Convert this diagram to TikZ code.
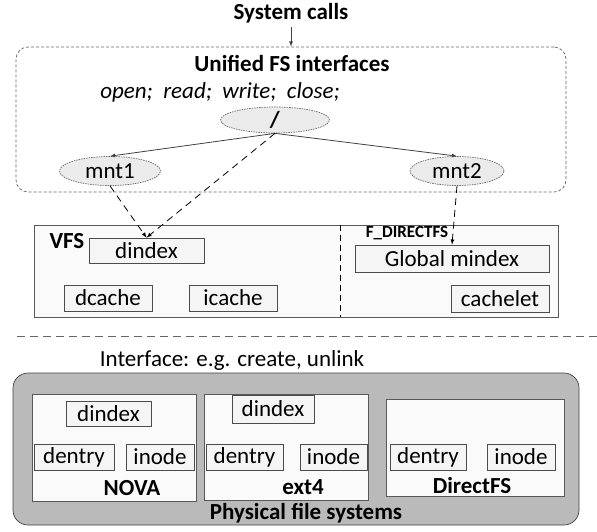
\documentclass[tikz,border=0pt]{standalone}
\usepackage{fontspec}
\setmainfont{Carlito}
\usepackage{tikz}
\usetikzlibrary{shapes.geometric,positioning}

\tikzset{
	box/.style={draw=black!70, fill=black!4, rectangle, inner sep=0pt, font=\fontsize{23}{26}\selectfont},
	mnt/.style={draw=black!60, dash pattern=on 1.5pt off 1pt, fill=black!8, ellipse, inner sep=0pt, font=\fontsize{23}{26}\selectfont},
	fsbox/.style={draw=black!65, fill=black!2, rectangle, inner sep=0pt},
	title/.style={font=\bfseries\fontsize{23}{26}\selectfont},
	txt/.style={font=\fontsize{23}{26}\selectfont},
	link/.style={-latex, draw=black!75, line width=0.8pt},
	dlink/.style={-latex, line width=0.8pt, dash pattern=on 7pt off 5pt},
}

\begin{document}
\begin{tikzpicture}[x=1pt, y=-1pt, line width=0.7pt]
				\useasboundingbox (0,0) rectangle (597,531);

				% upper layer: system call entry
				\node (sys) [title] at (291,13) {System calls};
				\node (unified) [draw=black!60, dash pattern=on 3pt off 2pt, rounded corners=12pt, minimum width=550pt, minimum height=145pt] at (291,119.5) {};
				\node (uftitle) [title] at (292,63) {Unified FS interfaces};
				\node (ops) [txt, font=\itshape\fontsize{23}{26}\selectfont] at (220,92) {open;~ read;~ write;~ close;};
				\node (root) [mnt, minimum width=109pt, minimum height=26pt] at (275,120) {\textbf{/}};
				\node (mnt1) [mnt, minimum width=101pt, minimum height=29pt] at (110,171) {mnt1};
				\node (mnt2) [mnt, minimum width=94pt, minimum height=29pt] at (457,171) {mnt2};

				% VFS and F_DIRECTFS
				\node (vfs) [fsbox, minimum width=524pt, minimum height=92pt] at (296,271) {};
				\draw[dash pattern=on 6pt off 4pt] (vfs.north -| 340,0) -- (vfs.south -| 340,0);
				\node (vfslabel) [title] at (67,241) {VFS};
				\node (vdindex) [box, minimum width=115pt, minimum height=25pt] at (146.5,250.5) {dindex};
				\node (dcache) [box, minimum width=88pt, minimum height=26pt] at (108,298) {dcache};
				\node (icache) [box, minimum width=88pt, minimum height=26pt] at (233,298) {icache};
				\node (fdlabel) [font=\bfseries\fontsize{17}{19}\selectfont] at (407,233) {F\_DIRECTFS};
				\node (gmindex) [box, minimum width=194pt, minimum height=27pt] at (452,258.5) {Global mindex};
				\node (cachelet) [box, minimum width=98pt, minimum height=27pt] at (500,298.5) {cachelet};

				% split between the two layers
				\coordinate (cutl) at (17,336);
				\coordinate (cutr) at (597,336);
				\draw[draw=black!60, dash pattern=on 8pt off 5pt] (cutl) -- (cutr);
				\node (iface) [txt] at (232,360) {Interface: e.g. create, unlink};

				% lower layer: physical file systems
				\node (phys) [draw=black!75, fill=black!27, rounded corners=15pt, minimum width=566pt, minimum height=152pt] at (296,449) {};
				\node (nova) [fsbox, minimum width=164pt, minimum height=107pt] at (114,447.5) {};
				\node (ext) [fsbox, minimum width=164pt, minimum height=106pt] at (286,447) {};
				\node (dfs) [fsbox, minimum width=178pt, minimum height=97pt] at (475,447.5) {};

				\node (ndindex) [box, minimum width=85pt, minimum height=25pt] at (108.5,413.5) {dindex};
				\node (ndentry) [box, minimum width=80pt, minimum height=26pt] at (74,457) {dentry};
				\node (ninode) [box, minimum width=68pt, minimum height=26pt] at (160,457) {inode};
				\node (edindex) [box, minimum width=82pt, minimum height=28pt] at (273,409) {dindex};
				\node (edentry) [box, minimum width=77pt, minimum height=26pt] at (244.5,457) {dentry};
				\node (einode) [box, minimum width=67pt, minimum height=26pt] at (333.5,457) {inode};
				\node (ddentry) [box, minimum width=76pt, minimum height=26pt] at (428,457) {dentry};
				\node (dinode) [box, minimum width=68pt, minimum height=26pt] at (521,457) {inode};

				\node (novalabel) [title] at (132,488) {NOVA};
				\node (extlabel) [title] at (303,487) {ext4};
				\node (dfslabel) [title] at (472,486) {DirectFS};
				\node (physlabel) [title] at (306,513) {Physical file systems};

				% Arrows
				\draw[link] (sys) -- (unified.north);
				\draw[link] (root.south) -- (mnt1.north);
				\draw[link] (root.south) -- (mnt2.north);
				\draw[dlink] (root.south) -- (vdindex.north);
				\draw[dlink] (mnt1.south) -- (vdindex.north);
				\draw[dlink] (mnt2.south) -- (gmindex.north);
			\end{tikzpicture}
\end{document}
